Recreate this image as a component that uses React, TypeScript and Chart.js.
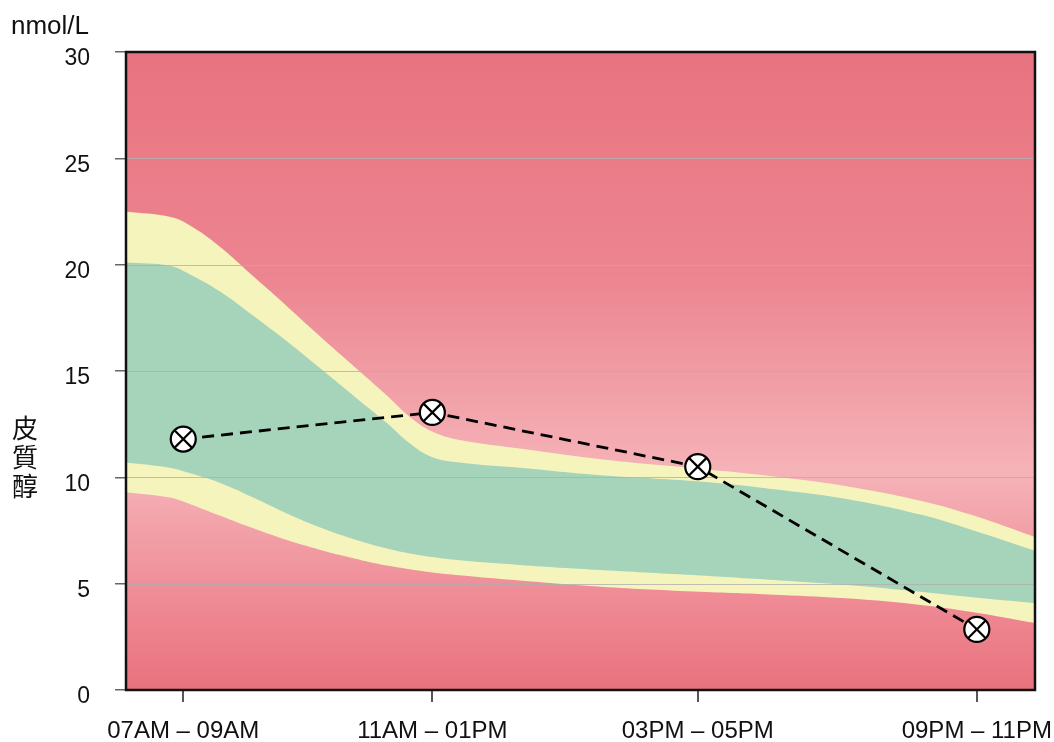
import React, { useEffect, useRef } from 'react';
import { Chart, registerables } from 'chart.js';

Chart.register(...registerables);

// ---- data ----
const xTickPositions = [6.3, 33.7, 62.9, 93.6];
const xTickLabels = ['07AM – 09AM', '11AM – 01PM', '03PM – 05PM', '09PM – 11PM'];
const cortisolValues = [11.8, 13.05, 10.5, 2.85];

const bandX = [0, 4.8, 7.0, 10.3, 14.0, 17.7, 21.3, 25.0, 28.7, 31.2, 33.7, 36.7, 43.3, 52.2, 63.2, 72.0, 79.7, 87.4, 92.9, 100];
const yellowUpper = [22.5, 22.25, 21.85, 20.85, 19.45, 18.05, 16.65, 15.25, 13.85, 12.85, 12.15, 11.75, 11.35, 10.85, 10.4, 10.0, 9.55, 8.9, 8.25, 7.2];
const greenUpper = [20.1, 19.95, 19.55, 18.75, 17.6, 16.4, 15.15, 13.85, 12.55, 11.6, 10.95, 10.7, 10.45, 10.1, 9.8, 9.4, 8.95, 8.25, 7.55, 6.55];
const greenLower = [10.7, 10.45, 10.2, 9.75, 9.05, 8.3, 7.65, 7.1, 6.65, 6.42, 6.25, 6.1, 5.88, 5.64, 5.38, 5.15, 4.93, 4.62, 4.37, 4.08];
const yellowLower = [9.3, 9.05, 8.75, 8.2, 7.6, 7.05, 6.6, 6.2, 5.85, 5.68, 5.53, 5.4, 5.15, 4.86, 4.62, 4.47, 4.3, 4.0, 3.68, 3.15];

const yMin = 0;
const yMax = 30;
const yStep = 5;
const unitLabel = 'nmol/L';
const yTitleChars = ['皮', '質', '醇'];

const FONT = '"Liberation Sans", Arial, Helvetica, sans-serif';
const GREEN = '#A5D4BA';
const YELLOW = '#F6F4BD';

const toPts = (xs: number[], ys: number[]) => xs.map((x, i) => ({ x, y: ys[i] }));

export default function App() {
  const canvasRef = useRef<HTMLCanvasElement | null>(null);

  useEffect(() => {
    const canvas = canvasRef.current;
    if (!canvas) return;

    const bgPlugin = {
      id: 'bgGradient',
      beforeDatasetsDraw(chart: any) {
        const { ctx, chartArea } = chart;
        const { left, top, right, bottom } = chartArea;
        const g = ctx.createLinearGradient(0, top, 0, bottom);
        g.addColorStop(0, '#E87380');
        g.addColorStop(0.35, '#EC8590');
        g.addColorStop(0.66, '#F5B3B8');
        g.addColorStop(0.85, '#EF8C96');
        g.addColorStop(1, '#E8727E');
        ctx.save();
        ctx.fillStyle = g;
        ctx.fillRect(left, top, right - left, bottom - top);
        ctx.restore();
      },
      afterDatasetDraw(chart: any, args: any) {
        if (args.index !== 2) return;
        const { ctx, chartArea } = chart;
        const ys = chart.scales.y;
        ctx.save();
        ctx.strokeStyle = 'rgba(175,175,175,0.8)';
        ctx.lineWidth = 1.2;
        ys.ticks.forEach((t: any) => {
          if (t.value <= yMin || t.value >= yMax) return;
          const py = Math.round(ys.getPixelForValue(t.value)) + 0.5;
          ctx.beginPath();
          ctx.moveTo(chartArea.left, py);
          ctx.lineTo(chartArea.right, py);
          ctx.stroke();
        });
        ctx.restore();
      },
      afterDraw(chart: any) {
        const { ctx, chartArea } = chart;
        ctx.save();
        ctx.strokeStyle = '#111';
        ctx.lineWidth = 2.5;
        ctx.strokeRect(chartArea.left, chartArea.top, chartArea.right - chartArea.left, chartArea.bottom - chartArea.top);
        ctx.fillStyle = '#111';
        ctx.textAlign = 'left';
        ctx.textBaseline = 'middle';
        ctx.font = `26px ${FONT}`;
        ctx.fillText(unitLabel, 11, 27);
        ctx.textAlign = 'center';
        ctx.font = '26px "Noto Sans CJK TC", "Noto Sans CJK SC", sans-serif';
        yTitleChars.forEach((c, i) => ctx.fillText(c, 25, 428 + i * 29));
        ctx.restore();
      },
    };

    const bandCommon = {
      borderWidth: 0,
      pointRadius: 0,
      tension: 0.4,
    };

    const chart = new Chart(canvas, {
      type: 'line',
      data: {
        datasets: [
          {
            label: 'marker',
            data: toPts(xTickPositions, cortisolValues),
            showLine: false,
            pointStyle: 'crossRot',
            pointRadius: 12.5,
            pointBorderColor: '#000',
            pointBorderWidth: 2.2,
            pointBackgroundColor: 'rgba(0,0,0,0)',
          } as any,
          {
            label: 'cortisol',
            data: toPts(xTickPositions, cortisolValues),
            borderColor: '#000',
            borderWidth: 2.8,
            borderDash: [12, 7],
            tension: 0,
            fill: false,
            pointStyle: 'circle',
            pointRadius: 12.5,
            pointBackgroundColor: '#fff',
            pointBorderColor: '#000',
            pointBorderWidth: 2.2,
          },
          { label: 'greenUpper', data: toPts(bandX, greenUpper), ...bandCommon, backgroundColor: GREEN, fill: '+1' },
          { label: 'greenLower', data: toPts(bandX, greenLower), ...bandCommon, fill: false },
          { label: 'yellowUpper', data: toPts(bandX, yellowUpper), ...bandCommon, backgroundColor: YELLOW, fill: '+1' },
          { label: 'yellowLower', data: toPts(bandX, yellowLower), ...bandCommon, fill: false },
        ],
      },
      options: {
        animation: false,
        responsive: true,
        maintainAspectRatio: false,
        events: [],
        layout: { padding: { top: 52, right: 19, left: 0, bottom: 0 } },
        plugins: {
          legend: { display: false },
          tooltip: { enabled: false },
        },
        scales: {
          x: {
            type: 'linear',
            min: 0,
            max: 100,
            border: { display: false },
            grid: { drawOnChartArea: false, drawTicks: true, tickLength: 12, tickColor: '#555', lineWidth: 2 },
            afterBuildTicks: (scale: any) => {
              scale.ticks = xTickPositions.map((v) => ({ value: v }));
            },
            afterFit: (scale: any) => {
              scale.height = 52;
              scale.paddingLeft = 0;
              scale.paddingRight = 0;
            },
            ticks: {
              autoSkip: false,
              maxRotation: 0,
              padding: 15,
              color: '#111',
              font: { family: FONT, size: 24 },
              callback: (_v: any, i: number) => xTickLabels[i],
            },
          },
          y: {
            type: 'linear',
            min: yMin,
            max: yMax,
            border: { display: false },
            grid: { drawOnChartArea: false, drawTicks: true, tickLength: 11, tickColor: '#666', lineWidth: 1.5 },
            afterFit: (scale: any) => {
              scale.width = 126;
              scale.paddingTop = 0;
              scale.paddingBottom = 0;
            },
            ticks: {
              stepSize: yStep,
              padding: 25,
              labelOffset: 7,
              color: '#111',
              font: { family: FONT, size: 23 },
            },
          },
        },
      },
      plugins: [bgPlugin],
    } as any);

    return () => chart.destroy();
  }, []);

  return (
    <div style={{ position: 'fixed', left: 0, top: 0, width: 1054, height: 742, background: '#fff' }}>
      <canvas ref={canvasRef} />
    </div>
  );
}
